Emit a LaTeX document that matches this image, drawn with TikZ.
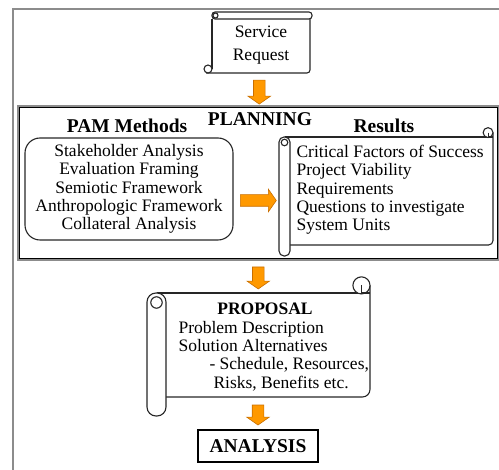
\documentclass[tikz,border=0pt]{standalone}
\usepackage{fontspec}
\setmainfont{Liberation Serif}
\usetikzlibrary{shapes.arrows,calc}
\definecolor{arroworange}{HTML}{FF9900}
\definecolor{arrowedge}{HTML}{C86E00}
\definecolor{framegray}{HTML}{8C8C8C}

\begin{document}
\begin{tikzpicture}[x=1pt,y=-1pt,
  bodytext/.style={font=\fontsize{17.5}{18.3}\selectfont},
  headtext/.style={font=\fontsize{19.5}{22}\selectfont\bfseries},
  scrollline/.style={draw=black!85, line width=1.1pt},
  blockarrow/.style={single arrow, draw=arrowedge, fill=arroworange, line width=0.6pt,
    inner sep=5.5pt, single arrow head extend=5.5pt, single arrow tip angle=110,
    minimum height=#1},
  blockarrow/.default=24pt]

  % scroll: roll left x, top y, right x, bottom y, roll width
  \newcommand\vscroll[5]{%
    \draw[scrollline] (#1+#5/2,#2) -- (#3-#5*0.45,#2);
    \draw[scrollline, rounded corners=#5*0.4] (#3,#2-#5*0.4) -- (#3,#4) -- (#1+#5,#4);
    \draw[scrollline, fill=white] (#3-#5*0.45,#2-#5*0.4) circle (#5*0.45);
    \draw[scrollline] (#3-#5*0.45,#2-#5*0.4) -- (#3-#5*0.45,#2) -- (#3,#2);
    \draw[scrollline, fill=white, rounded corners=#5/2-0.5] (#1,#2) rectangle (#1+#5,#4+#5);
    \draw[scrollline] (#1+#5/2,#2+#5/2) circle (#5*0.3);
  }

  \useasboundingbox (0,0) rectangle (499,470);

  % outer frame
  \draw[framegray, line width=1.3pt] (13,470) -- (13,9) -- (499,9);

  % service request
  \draw[scrollline, rounded corners=3pt] (212,12) rectangle (312,19);
  \draw[scrollline] (212,19) -- (212,69);
  \draw[scrollline, rounded corners=3pt] (206,73) -- (310,73) -- (310,19);
  \draw[scrollline, fill=white] (208,69) circle (4);
  \draw[scrollline] (215.5,15.5) circle (2.5);
  \node[font=\fontsize{17.5}{22.5}\selectfont, align=center] (req) at (261,45) {Service\\Request};
  \coordinate (reqbottom) at (260,73);

  % planning
  \draw[framegray, line width=2pt] (18,106) rectangle (499,260);
  \node[draw=black, line width=0.8pt, minimum width=478pt, minimum height=151pt, inner sep=0pt] (plan) at (258.5,183) {};
  \node[headtext] (plantitle) at (260,119.5) {PLANNING};
  \node[headtext] (methtitle) at (127,126) {PAM Methods};
  \node[headtext] (restitle) at (384,126) {Results};

  \node[bodytext, draw=black!85, line width=1.1pt, rounded corners=15pt, align=center,
    minimum width=208pt, minimum height=102pt] (methods) at (129,189)
    {Stakeholder Analysis\\Evaluation Framing\\Semiotic Framework\\Anthropologic Framework\\Collateral Analysis};

  \vscroll{279}{137}{493}{245}{11}
  \coordinate (resleft) at (279,200.5);
  \node[bodytext, anchor=west, align=left] (results) at (293,190)
    {Critical Factors of Success\\Project Viability\\Requirements\\Questions to investigate\\System Units};

  % proposal
  \vscroll{147}{293}{370}{397}{19}
  \coordinate (proptop) at (258,293);
  \coordinate (propbottom) at (258,397);
  \node[font=\fontsize{17.5}{20}\selectfont\bfseries] (proptitle) at (265,308.5) {PROPOSAL};
  \node[bodytext, anchor=west, align=left] (proptext) at (175,356)
    {Problem Description\\Solution Alternatives\\\hspace*{31pt}- Schedule, Resources,\\\hspace*{35pt}Risks, Benefits etc.};

  % analysis
  \node[headtext, draw=black, line width=2pt, minimum width=120pt, minimum height=32pt] (analysis) at (258,446) {ANALYSIS};

  % arrows
  \node[blockarrow=24pt, rotate=-90] (a1) at ($(reqbottom)!0.5!(plan.north)$) {};
  \node[blockarrow=36pt] (a2) at ($(methods.east |- resleft)!0.5!(resleft)$) {};
  \node[blockarrow=22pt, rotate=-90] (a3) at ($(plan.south)!0.5!(proptop)$) {};
  \node[blockarrow=20pt, rotate=-90] (a4) at ($(propbottom)!0.5!(analysis.north)$) {};

\end{tikzpicture}
\end{document}
